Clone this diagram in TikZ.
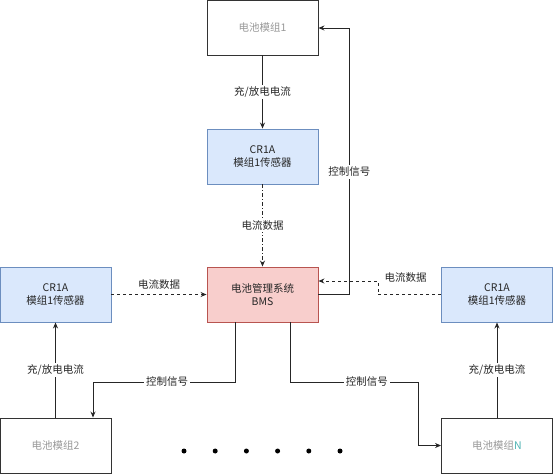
\documentclass[tikz,border=0pt]{standalone}
\usepackage{fontspec}
\setmainfont{Liberation Sans}
\newfontfamily\cjk{Noto Sans CJK SC}
\usepackage{xcolor}
\usetikzlibrary{positioning,arrows.meta}
\definecolor{sensorfill}{HTML}{DAE8FC}
\definecolor{sensordraw}{HTML}{6C8EBF}
\definecolor{bmsfill}{HTML}{F8CECC}
\definecolor{bmsdraw}{HTML}{B85450}
\definecolor{modtext}{HTML}{999999}
\definecolor{modN}{HTML}{4DB3B3}
\tikzstyle{modbox} = [draw=black!80, fill=white, line width=0.9pt,
    rectangle, minimum width=111pt, minimum height=55pt, inner sep=0pt,
    text=modtext, font=\cjk\fontsize{10.5}{12}\selectfont]
\tikzstyle{sensorbox} = [modbox, draw=sensordraw, fill=sensorfill,
    text=black!85, align=center, font=\cjk\fontsize{10.5}{13}\selectfont]
\tikzstyle{bmsbox} = [sensorbox, draw=bmsdraw, fill=bmsfill]
\tikzstyle{flow} = [draw=black!85, line width=0.9pt, -{Stealth[length=6pt,width=5pt]}]
\tikzstyle{lbl} = [fill=white, inner sep=2pt, text=black!85,
    font=\cjk\fontsize{10.5}{12}\selectfont]

\begin{document}
\begin{tikzpicture}[x=1pt, y=-1pt]
\useasboundingbox (0,0) rectangle (553,474);
% boxes
\node [modbox] (mod1) at (262.5,27.5) {电池模组1};
\node [sensorbox] (sen1) at (262.5,156.5) {CR1A\\模组1传感器};
\node [bmsbox] (bms) at (262.5,294.5) {电池管理系统\\BMS};
\node [sensorbox] (senL) at (55.5,294.5) {CR1A\\模组1传感器};
\node [sensorbox] (senR) at (497,294.5) {CR1A\\模组1传感器};
\node [modbox] (mod2) at (55.5,445.5) {电池模组2};
\node [modbox] (modN) at (497,445.5) {电池模组\textcolor{modN}{N}};
% top branch
\draw [flow] (mod1) -- node[lbl] {充/放电电流} (sen1);
\draw [flow, dash pattern=on 4pt off 2pt on 1pt off 2pt] (sen1) -- node[lbl] {电流数据} (bms);
\draw [flow] (bms.east) -- ++(31,0) |- node[lbl, pos=0.23] {控制信号} ([yshift=-0.5pt]mod1.east);
% left branch
\draw [flow] (mod2.north) -- node[lbl] {充/放电电流} (senL.south);
\draw [flow, dashed] (senL) -- node[lbl, above=3pt, fill=none] {电流数据} (bms);
\coordinate (bmsL) at ([xshift=-27pt]bms.south);
\coordinate (turnL) at (93,382);
\draw [flow] (bmsL) |- node[lbl, pos=0.74] {控制信号} (turnL) -- (turnL |- mod2.north);
% right branch
\draw [flow] (modN.north) -- node[lbl] {充/放电电流} (senR.south);
\draw [flow, dashed] (senR.west) -- node[lbl, above=10pt, xshift=-4pt, fill=none] {电流数据} ++(-63,0)
    |- ([yshift=13.5pt]bms.east);
\coordinate (bmsR) at ([xshift=27.5pt]bms.south);
\coordinate (turnR) at (418,382);
\draw [flow] (bmsR) |- node[lbl, pos=0.8] {控制信号} (turnR) |- (modN.west);
% dots
\foreach \i in {0,...,5}
    \fill (184+31.2*\i,451) circle (2.5pt);
\end{tikzpicture}
\end{document}
